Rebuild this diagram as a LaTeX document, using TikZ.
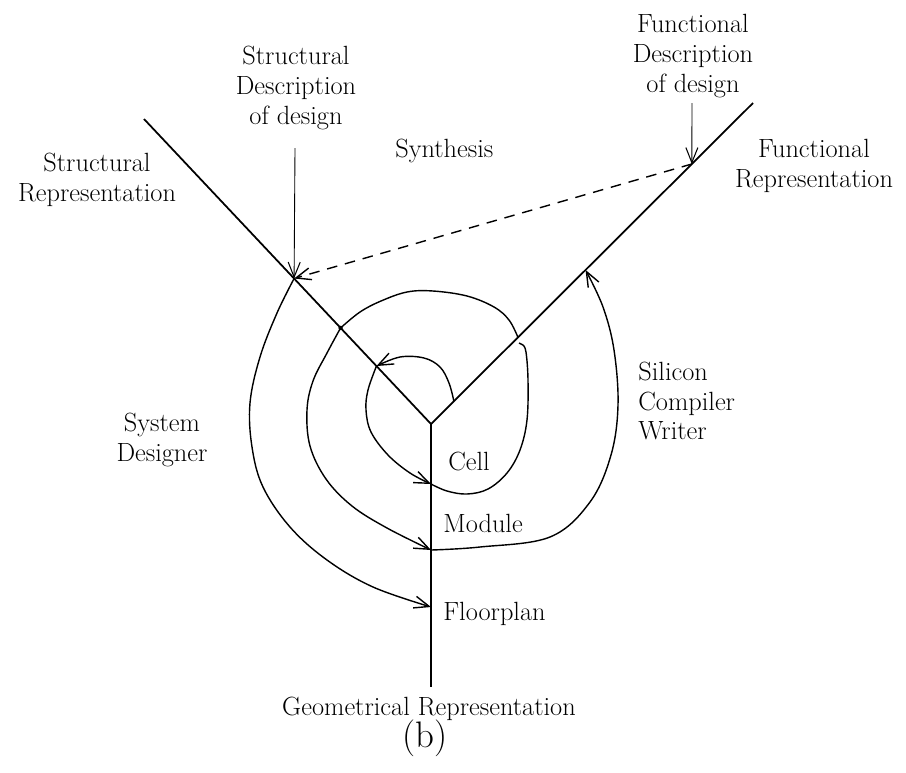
\documentclass[tikz,border=0pt]{standalone}
\usepackage{tikz}
\usetikzlibrary{calc,arrows.meta}
\tikzset{
axis/.style={line width=1pt,black},
loop/.style={line width=0.8pt,black},
loopar/.style={loop,-{Straight Barb[length=3mm,width=2.4mm,line width=0.8pt]}},
descar/.style={line width=0.5pt,-{Straight Barb[length=3mm,width=2.4mm,line width=0.6pt]}},
dashar/.style={line width=0.8pt,dash pattern=on 6pt off 4.5pt,-{Straight Barb[length=3mm,width=2.4mm,line width=0.8pt]}},
lbl/.style={inner sep=0pt,font=\fontsize{15}{17}\selectfont},
lblc/.style={lbl,align=center},
lbll/.style={lbl,align=left}
}

\begin{document}
\begin{tikzpicture}[x=0.02cm,y=-0.02cm]
\useasboundingbox (0,0) rectangle (906,772);
% the three axes
\coordinate (C) at (431,424);
\coordinate (Stop) at (144,119);
\coordinate (Ftop) at (753,103);
\coordinate (Gbot) at (431,687);
\draw[axis] (Stop) -- (C) -- (Ftop);
\draw[axis] (C) -- (Gbot);
% points on the axes
\coordinate (S1) at ($(C)!0.477!(Stop)$);
\coordinate (S2) at ($(C)!0.315!(Stop)$);
\coordinate (S3) at ($(C)!0.19!(Stop)$);
\coordinate (F0) at ($(C)!0.81!(Ftop)$);
\coordinate (F1) at ($(C)!0.48!(Ftop)$);
\coordinate (F2) at ($(C)!0.27!(Ftop)$);
\coordinate (F3) at ($(C)!0.071!(Ftop)$);
\coordinate (V1) at (431,484);
\coordinate (V2) at (431,550);
\coordinate (V3) at (431,607);
\coordinate (SDtop) at (295,148);
\coordinate (FDtop) at (692,103);

% labels
\node[lblc] (sdesc) at (296,88) {Structural\\Description\\of design};
\node[lblc] (fdesc) at (693,56) {Functional\\Description\\of design};
\node[lblc] (srep) at (97,180) {Structural\\Representation};
\node[lblc] (frep) at (814,166) {Functional\\Representation};
\node[lbl,anchor=base west] (synth) at (395,157) {Synthesis};
\node[lblc] (sysd) at (162,440) {System\\Designer};
\node[lbll,anchor=west] (scw) at (638,401) {Silicon\\Compiler\\Writer};
\node[lbl,anchor=base west] (cell) at (448,470) {Cell};
\node[lbl,anchor=base west] (module) at (443,532) {Module};
\node[lbl,anchor=base west] (floor) at (443,620) {Floorplan};
\node[lbl,anchor=base] (geom) at (429,715) {Geometrical Representation};
\node[inner sep=0pt,font=\fontsize{21}{24}\selectfont] (fig) at (425,738) {(b)};

% description arrows
\draw[descar] (SDtop) -- (S1);
\draw[descar] (FDtop) -- (F0);
\draw[dashar] (F0) -- (S1);

% the spiral
\draw[loopar] plot[smooth,tension=0.6] coordinates {(F3) (449,383) (440,367) (424,358) (400,357) (S3)};
\draw[loopar] plot[smooth,tension=0.6] coordinates {(S3) (368,390) (366,410) (371,432) (388,455) (410,473) (V1)};
\draw[loop] plot[smooth,tension=0.6] coordinates {(V1) (447,491) (467,494) (488,489) (507,473) (520,450) (527,420) (528,380) (526,352) (523,345)} -- (519,343);
\draw[loop] plot[smooth,tension=0.6] coordinates {(F2) (509,320) (494,307) (467,296) (433,291) (407,292) (381,301) (360,312) (S2)};
\fill (S2) circle (2.2);
\draw[loopar] plot[smooth,tension=0.6] coordinates {(S2) (327,353) (313,381) (307,410) (310,446) (326,479) (352,506) (387,528) (V2)};
\draw[loopar] plot[smooth,tension=0.6] coordinates {(V2) (480,547) (550,537) (590,502) (611,455) (618,405) (614,350) (603,307) (F1)};
\draw[loopar] plot[smooth,tension=0.6] coordinates {(S1) (277,313) (260,357) (250,403) (252,447) (263,487) (290,527) (327,560) (373,587) (V3)};
\end{tikzpicture}
\end{document}
